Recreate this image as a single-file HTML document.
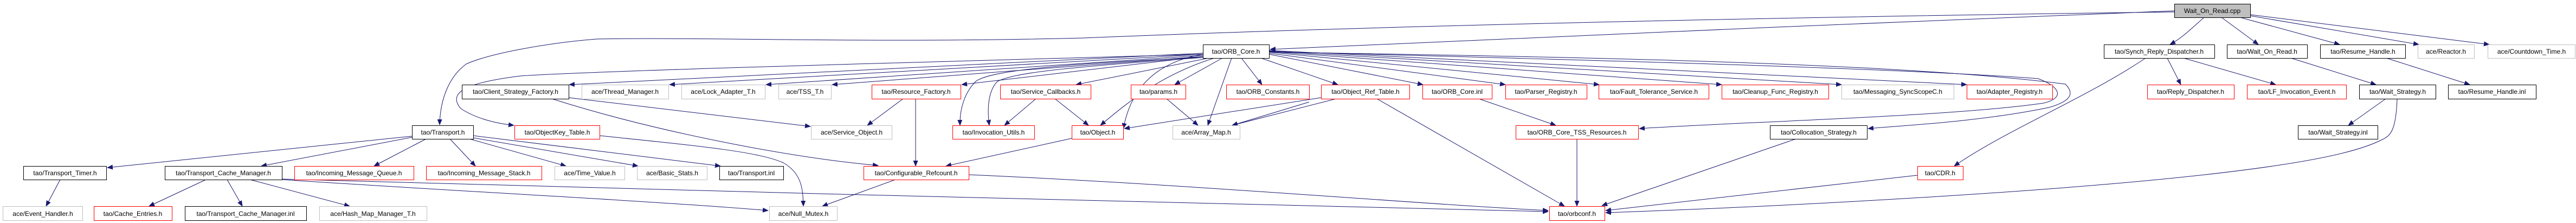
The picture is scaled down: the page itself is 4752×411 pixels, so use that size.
<!DOCTYPE html>
<html><head><meta charset="utf-8"><style>html,body{margin:0;padding:0;background:#fff}svg{display:block}</style></head>
<body>
<svg width="4752" height="411" viewBox="0 0 4752 411" xmlns="http://www.w3.org/2000/svg" font-family="Liberation Sans, sans-serif" font-size="12">
<defs><marker id="a" markerUnits="userSpaceOnUse" markerWidth="11" markerHeight="9" refX="10" refY="4.5" orient="auto"><path d="M0,0 L11,4.5 L0,9 z" fill="#191970"/></marker></defs>
<g fill="none" stroke="#191970" stroke-width="1" marker-end="url(#a)">
<!-- from cpp -->
<path d="M4011,20 C3500,40 2800,70 2343,91"/>
<path d="M4011,22 C3400,30 2600,45 2000,70 C1600,80 1300,68 1100,72 C1000,80 900,100 860,118 C830,140 812,180 811,230"/>
<path d="M4066,32 C4040,55 4025,70 4003,82"/>
<path d="M4098,32 L4166,82"/>
<path d="M4132,32 L4316,82"/>
<path d="M4151,29 L4462,82"/>
<path d="M4151,27 L4592,82"/>
<!-- ORB_Core -->
<path d="M2219,100 C1800,112 1100,130 960,140 C880,150 820,165 850,200 C880,220 920,228 948,231"/>
<path d="M2219,98 L1050,156"/>
<path d="M2219,100 L1235,156"/>
<path d="M2219,102 L1413,156"/>
<path d="M2219,104 L1535,156"/>
<path d="M2219,106 C1900,120 1820,135 1800,150 C1780,170 1770,200 1771,231"/>
<path d="M2219,104 L1774,156"/>
<path d="M2219,106 C1950,125 1870,135 1840,150 C1820,170 1822,210 1825,231"/>
<path d="M2230,107 L1985,156"/>
<path d="M2240,107 C2150,135 2090,180 2030,231"/>
<path d="M2255,107 L2167,156"/>
<path d="M2272,107 L2228,231"/>
<path d="M2290,107 L2328,156"/>
<path d="M2326,107 L2468,156"/>
<path d="M2341,100 L2625,156"/>
<path d="M2341,98 L2777,156"/>
<path d="M2341,96 L2950,156"/>
<path d="M2341,95 L3176,156"/>
<path d="M2341,94 L3397,156"/>
<path d="M2341,93 L3628,156"/>
<path d="M2341,95 C2900,110 3500,125 3760,145 C3800,160 3810,180 3770,190 C3600,215 3200,225 3024,237"/>
<path d="M2341,96 C2900,105 3500,115 3810,155 C3825,170 3825,185 3780,198 C3650,225 3500,232 3446,237"/>
<path d="M2219,100 C2100,120 2080,200 2072,237"/>
<!-- Transport.h -->
<path d="M760,251 L198,309"/>
<path d="M760,253 L482,306"/>
<path d="M786,256 L690,306"/>
<path d="M830,256 L877,306"/>
<path d="M866,256 L1044,306"/>
<path d="M873,254 L1177,306"/>
<path d="M873,250 L1329,306"/>
<!-- Transport_Timer -->
<path d="M111,331 L85,380"/>
<!-- TCM -->
<path d="M380,331 L275,380"/>
<path d="M419,331 L447,380"/>
<path d="M461,331 L645,380"/>
<path d="M520,331 C800,350 1200,370 1417,388"/>
<path d="M520,330 C1200,350 2400,380 2856,390"/>
<!-- Client_Strategy_Factory -->
<path d="M1049,180 L1495,233"/>
<path d="M1018,182 C1200,240 1450,290 1620,305"/>
<!-- ObjectKey_Table -->
<path d="M1106,250 C1300,270 1400,280 1445,300 C1480,320 1481,350 1482,380"/>
<!-- Resource_Factory -->
<path d="M1666,182 L1600,231"/>
<path d="M1689,182 L1689,306"/>
<!-- Configurable_Refcount -->
<path d="M1652,331 L1517,380"/>
<path d="M1787,322 C2200,340 2600,375 2856,388"/>
<!-- Service_Callbacks / params / Object -->
<path d="M1911,182 L1853,231"/>
<path d="M1946,182 L2008,231"/>
<path d="M2152,182 L2210,231"/>
<path d="M1977,255 L1745,306"/>
<!-- Object_Ref_Table / ORB_Constants -->
<path d="M2437,180 L2074,237"/>
<path d="M2465,182 L2273,231"/>
<path d="M2415,188 L2273,231"/>
<path d="M2540,182 L2886,380"/>
<path d="M2728,182 L2870,231"/>
<path d="M2909,256 L2909,380"/>
<path d="M3313,256 L2955,379"/>
<path d="M3537,323 L2962,388"/>
<!-- Synch -->
<path d="M3958,107 C3850,180 3700,240 3605,306"/>
<path d="M3998,107 L4023,156"/>
<path d="M4028,107 L4198,156"/>
<!-- Wait_On_Read.h / Resume / Wait_Strategy -->
<path d="M4226,107 L4383,156"/>
<path d="M4402,107 L4556,156"/>
<path d="M4401,182 L4332,231"/>
<path d="M4422,182 C4420,240 4410,250 4395,257 C4360,275 4300,290 4200,305 C3900,350 3300,380 2962,392"/>
</g>
<g stroke-width="1">
<rect x="4011.5" y="7.5" width="140" height="25" fill="#bfbfbf" stroke="#000"/>
</g>
<g id="nodes" fill="#fff" stroke-width="1">
<!-- row1 -->
<rect x="2219.5" y="82.5" width="122" height="25" stroke="#000"/>
<rect x="3881.5" y="82.5" width="204" height="25" stroke="#000"/>
<rect x="4108.5" y="82.5" width="148" height="25" stroke="#000"/>
<rect x="4280.5" y="82.5" width="157" height="25" stroke="#000"/>
<rect x="4460.5" y="82.5" width="104" height="25" stroke="#bfbfbf"/>
<rect x="4589.5" y="82.5" width="161" height="25" stroke="#bfbfbf"/>
<!-- row2 -->
<rect x="852.5" y="156.5" width="197" height="26" stroke="#000"/>
<rect x="1073.5" y="156.5" width="160" height="26" stroke="#bfbfbf"/>
<rect x="1257.5" y="156.5" width="154" height="26" stroke="#bfbfbf"/>
<rect x="1436.5" y="156.5" width="97" height="26" stroke="#bfbfbf"/>
<rect x="1608.5" y="156.5" width="164" height="26" stroke="#f00"/>
<rect x="1845.5" y="156.5" width="167" height="26" stroke="#f00"/>
<rect x="2086.5" y="156.5" width="101" height="26" stroke="#f00"/>
<rect x="2262.5" y="156.5" width="153" height="26" stroke="#f00"/>
<rect x="2437.5" y="156.5" width="163" height="26" stroke="#f00"/>
<rect x="2624.5" y="156.5" width="128" height="26" stroke="#f00"/>
<rect x="2777.5" y="156.5" width="150" height="26" stroke="#f00"/>
<rect x="2949.5" y="156.5" width="203" height="26" stroke="#f00"/>
<rect x="3176.5" y="156.5" width="197" height="26" stroke="#f00"/>
<rect x="3397.5" y="156.5" width="207" height="26" stroke="#bfbfbf"/>
<rect x="3628.5" y="156.5" width="158" height="26" stroke="#f00"/>
<rect x="3961.5" y="156.5" width="160" height="26" stroke="#f00"/>
<rect x="4145.5" y="156.5" width="183" height="26" stroke="#f00"/>
<rect x="4352.5" y="156.5" width="141" height="26" stroke="#000"/>
<rect x="4516.5" y="156.5" width="162" height="26" stroke="#000"/>
<!-- row3 -->
<rect x="760.5" y="231.5" width="113" height="25" stroke="#000"/>
<rect x="949.5" y="231.5" width="157" height="25" stroke="#f00"/>
<rect x="1496.5" y="231.5" width="149" height="25" stroke="#bfbfbf"/>
<rect x="1757.5" y="231.5" width="151" height="25" stroke="#f00"/>
<rect x="1977.5" y="231.5" width="95" height="25" stroke="#f00"/>
<rect x="2163.5" y="231.5" width="124" height="25" stroke="#bfbfbf"/>
<rect x="2796.5" y="231.5" width="226" height="25" stroke="#f00"/>
<rect x="3265.5" y="231.5" width="179" height="25" stroke="#000"/>
<rect x="4239.5" y="231.5" width="147" height="25" stroke="#000"/>
<!-- row4 -->
<rect x="43.5" y="306.5" width="153" height="25" stroke="#000"/>
<rect x="304.5" y="306.5" width="216" height="25" stroke="#000"/>
<rect x="543.5" y="306.5" width="220" height="25" stroke="#f00"/>
<rect x="786.5" y="306.5" width="213" height="25" stroke="#f00"/>
<rect x="1023.5" y="306.5" width="129" height="25" stroke="#bfbfbf"/>
<rect x="1175.5" y="306.5" width="129" height="25" stroke="#bfbfbf"/>
<rect x="1327.5" y="306.5" width="118" height="25" stroke="#000"/>
<rect x="1593.5" y="306.5" width="194" height="25" stroke="#f00"/>
<rect x="3537.5" y="306.5" width="84" height="25" stroke="#f00"/>
<!-- row5 -->
<rect x="5.5" y="380.5" width="147" height="26" stroke="#bfbfbf"/>
<rect x="173.5" y="380.5" width="144" height="26" stroke="#f00"/>
<rect x="341.5" y="380.5" width="224" height="26" stroke="#000"/>
<rect x="589.5" y="380.5" width="198" height="26" stroke="#bfbfbf"/>
<rect x="1419.5" y="380.5" width="125" height="26" stroke="#bfbfbf"/>
<rect x="2858.5" y="380.5" width="102" height="26" stroke="#f00"/>
</g>
<g fill="#000" text-anchor="middle" font-size="12">
<text x="4081" y="24">Wait_On_Read.cpp</text>
<text x="2280" y="99">tao/ORB_Core.h</text>
<text x="3983" y="99">tao/Synch_Reply_Dispatcher.h</text>
<text x="4182" y="99">tao/Wait_On_Read.h</text>
<text x="4359" y="99">tao/Resume_Handle.h</text>
<text x="4512" y="99">ace/Reactor.h</text>
<text x="4670" y="99">ace/Countdown_Time.h</text>
<text x="951" y="173">tao/Client_Strategy_Factory.h</text>
<text x="1153" y="173">ace/Thread_Manager.h</text>
<text x="1334" y="173">ace/Lock_Adapter_T.h</text>
<text x="1485" y="173">ace/TSS_T.h</text>
<text x="1690" y="173">tao/Resource_Factory.h</text>
<text x="1929" y="173">tao/Service_Callbacks.h</text>
<text x="2137" y="173">tao/params.h</text>
<text x="2339" y="173">tao/ORB_Constants.h</text>
<text x="2519" y="173">tao/Object_Ref_Table.h</text>
<text x="2688" y="173">tao/ORB_Core.inl</text>
<text x="2852" y="173">tao/Parser_Registry.h</text>
<text x="3051" y="173">tao/Fault_Tolerance_Service.h</text>
<text x="3275" y="173">tao/Cleanup_Func_Registry.h</text>
<text x="3501" y="173">tao/Messaging_SyncScopeC.h</text>
<text x="3707" y="173">tao/Adapter_Registry.h</text>
<text x="4041" y="173">tao/Reply_Dispatcher.h</text>
<text x="4237" y="173">tao/LF_Invocation_Event.h</text>
<text x="4423" y="173">tao/Wait_Strategy.h</text>
<text x="4597" y="173">tao/Resume_Handle.inl</text>
<text x="817" y="248">tao/Transport.h</text>
<text x="1028" y="248">tao/ObjectKey_Table.h</text>
<text x="1571" y="248">ace/Service_Object.h</text>
<text x="1833" y="248">tao/Invocation_Utils.h</text>
<text x="2025" y="248">tao/Object.h</text>
<text x="2225" y="248">ace/Array_Map.h</text>
<text x="2909" y="248">tao/ORB_Core_TSS_Resources.h</text>
<text x="3355" y="248">tao/Collocation_Strategy.h</text>
<text x="4313" y="248">tao/Wait_Strategy.inl</text>
<text x="120" y="323">tao/Transport_Timer.h</text>
<text x="412" y="323">tao/Transport_Cache_Manager.h</text>
<text x="653" y="323">tao/Incoming_Message_Queue.h</text>
<text x="893" y="323">tao/Incoming_Message_Stack.h</text>
<text x="1088" y="323">ace/Time_Value.h</text>
<text x="1240" y="323">ace/Basic_Stats.h</text>
<text x="1386" y="323">tao/Transport.inl</text>
<text x="1690" y="323">tao/Configurable_Refcount.h</text>
<text x="3579" y="323">tao/CDR.h</text>
<text x="79" y="398">ace/Event_Handler.h</text>
<text x="245" y="398">tao/Cache_Entries.h</text>
<text x="453" y="398">tao/Transport_Cache_Manager.inl</text>
<text x="688" y="398">ace/Hash_Map_Manager_T.h</text>
<text x="1482" y="398">ace/Null_Mutex.h</text>
<text x="2909" y="398">tao/orbconf.h</text>
</g>
</svg>
</body></html>
